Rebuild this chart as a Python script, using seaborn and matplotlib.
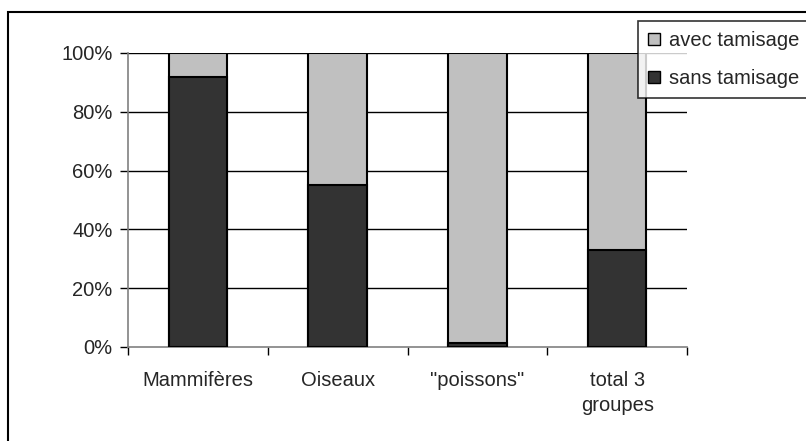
import matplotlib
matplotlib.use("Agg")
import matplotlib.pyplot as plt
import matplotlib.patches as mpatches
import numpy as np
import pandas as pd
import seaborn as sns

groupes = ["Mammifères", "Oiseaux", "\"poissons\"", "total 3\ngroupes"]
sans_tamisage = [92, 55, 1.5, 33]
avec_tamisage = [8, 45, 98.5, 67]

df = pd.DataFrame({"groupe": groupes, "sans": sans_tamisage, "avec": avec_tamisage})
df["total"] = df["sans"] + df["avec"]

sns.set_style("white")
plt.rcParams['font.family'] = ['Liberation Sans', 'DejaVu Sans']
fs = 14.5

fig = plt.figure(figsize=(8.06, 4.41), dpi=100)
ax = fig.add_axes([128 / 806, 1 - 347 / 441, (687 - 128) / 806, (347 - 53) / 441])

# grid lines behind the bars
for v in [20, 40, 60, 80, 100]:
    ax.axhline(v, color="black", lw=1, zorder=0)

sns.barplot(data=df, x="groupe", y="total", color="#C0C0C0", width=0.42,
            edgecolor="black", linewidth=1.5, saturation=1, ax=ax, zorder=2)
sns.barplot(data=df, x="groupe", y="sans", color="#333333", width=0.42,
            edgecolor="black", linewidth=1.5, saturation=1, ax=ax, zorder=3)

ax.set_xlim(-0.5, 3.5)
ax.set_ylim(0, 100)
ax.set_xlabel("")
ax.set_ylabel("")

ax.set_yticks([0, 20, 40, 60, 80, 100])
ax.set_yticklabels(["0%", "20%", "40%", "60%", "80%", "100%"], fontsize=fs)
ax.tick_params(axis="y", length=6, width=1, color="black", pad=5, left=True)

ax.set_xticks([-0.5, 0.5, 1.5, 2.5, 3.5])
ax.set_xticklabels([])
ax.set_xticks([0, 1, 2, 3], minor=True)
ax.set_xticklabels(groupes, minor=True, fontsize=fs, linespacing=1.4)
ax.tick_params(axis="x", which="major", length=6, width=1, color="black", bottom=True)
ax.tick_params(axis="x", which="minor", length=0, pad=17)

for s in ["top", "right"]:
    ax.spines[s].set_visible(False)
for s in ["left", "bottom"]:
    ax.spines[s].set_color("#808080")
    ax.spines[s].set_linewidth(1.2)

handles = [mpatches.Patch(facecolor="#C0C0C0", edgecolor="black", label="avec tamisage"),
           mpatches.Patch(facecolor="#333333", edgecolor="black", label="sans tamisage")]
leg = fig.legend(handles=handles, loc="upper left", bbox_to_anchor=(638 / 806, 1 - 21 / 441),
                 fontsize=fs, frameon=True, fancybox=False, handlelength=0.6, handleheight=0.6,
                 handletextpad=0.45, borderpad=0.5, labelspacing=0.95, borderaxespad=0)
leg.get_frame().set_edgecolor("black")
leg.get_frame().set_linewidth(1.2)
leg.set_zorder(10)

# outer chart-area border
fig.patches.append(mpatches.Rectangle((8 / 806, -0.1), 1.2, 1.1 - 12 / 441,
                                      transform=fig.transFigure, fill=False,
                                      edgecolor="black", lw=1.5))

fig.savefig("out.png", dpi=100)
